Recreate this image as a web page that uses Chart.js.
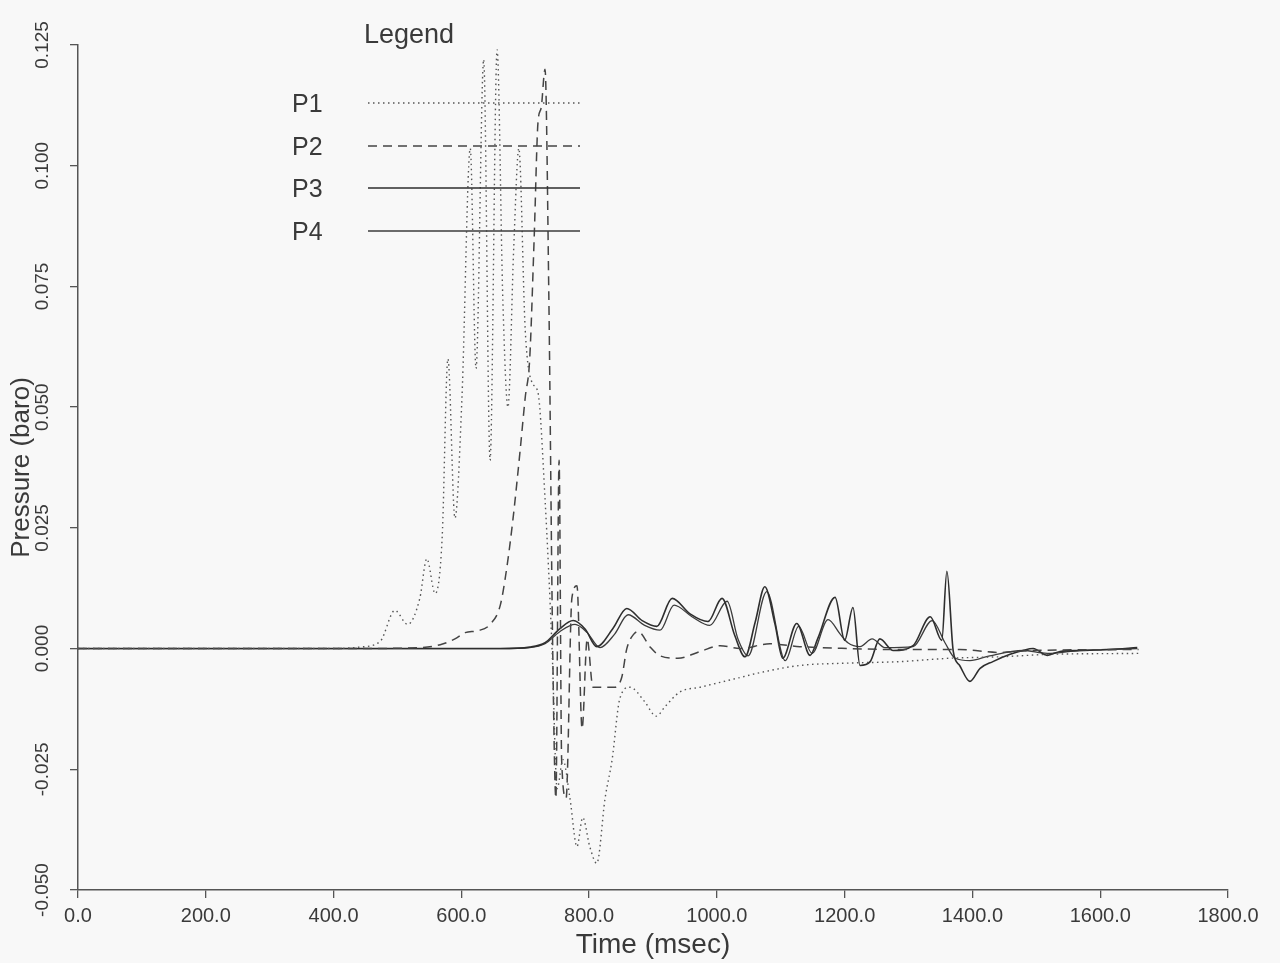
<!DOCTYPE html>
<html>
<head>
<meta charset="utf-8">
<script src="https://cdn.jsdelivr.net/npm/chart.js@4/dist/chart.umd.min.js"></script>
<style>
  html, body { margin: 0; padding: 0; background: #f8f8f8; }
  #wrap { width: 1280px; height: 963px; }
</style>
</head>
<body>
<div id="wrap"><canvas id="c" width="1280" height="963"></canvas></div>
<script>
// ---- Data (time in msec, pressure in baro) ----
const xTicks = [0, 200, 400, 600, 800, 1000, 1200, 1400, 1600, 1800];
const yTicks = [-0.05, -0.025, 0, 0.025, 0.05, 0.075, 0.1, 0.125];
const seriesNames = ['P1', 'P2', 'P3', 'P4'];

const p1Time = [0, 400, 440, 473, 496, 516, 535, 546, 559, 570, 579, 590, 601, 614, 623, 635, 645, 656, 665, 673, 682, 690, 700, 711, 720, 731, 742, 750, 759, 770, 781, 790, 801, 812, 825, 836, 848, 864, 887, 905, 919, 942, 974, 1005, 1036, 1067, 1130, 1208, 1287, 1365, 1443, 1521, 1660];
const p1Val  = [0, 0, 0.0003, 0.0015, 0.0079, 0.005, 0.0104, 0.0186, 0.0114, 0.023, 0.060, 0.027, 0.052, 0.1036, 0.058, 0.122, 0.039, 0.124, 0.072, 0.050, 0.083, 0.1036, 0.066, 0.055, 0.053, 0.031, 0, -0.029, -0.023, -0.031, -0.041, -0.035, -0.041, -0.0445, -0.031, -0.023, -0.0104, -0.008, -0.011, -0.014, -0.012, -0.009, -0.008, -0.007, -0.006, -0.005, -0.0035, -0.003, -0.0027, -0.002, -0.0017, -0.0012, -0.001];

const p2Time = [0, 430, 535, 567, 590, 606, 626, 645, 661, 671, 681, 692, 700, 707, 714, 720, 725, 731, 737, 743, 748, 753, 757, 764, 773, 781, 789, 797, 806, 817, 840, 851, 859, 870, 877, 895, 911, 939, 974, 1005, 1036, 1083, 1130, 1208, 1287, 1380, 1443, 1490, 1660];
const p2Val  = [0, 0, 0.0002, 0.0008, 0.002, 0.0033, 0.0037, 0.005, 0.009, 0.0166, 0.027, 0.041, 0.052, 0.060, 0.085, 0.109, 0.112, 0.120, 0.0725, 0, -0.031, 0.039, -0.023, -0.031, 0.0104, 0.013, -0.0166, 0.002, -0.008, -0.008, -0.008, -0.006, 0.0, 0.003, 0.0035, 0.0004, -0.0015, -0.002, -0.0006, 0.0006, 0.0, 0.001, 0.0004, 0, -0.0002, -0.0002, -0.0008, -0.0004, -0.0002];

const p3Time = [0, 661, 707, 731, 754, 775, 794, 812, 837, 859, 883, 906, 930, 958, 986, 1008, 1028, 1044, 1060, 1075, 1091, 1103, 1125, 1146, 1158, 1185, 1200, 1213, 1224, 1240, 1255, 1276, 1307, 1334, 1352, 1360, 1370, 1380, 1396, 1412, 1432, 1459, 1479, 1495, 1517, 1537, 1568, 1615, 1658];
const p3Val  = [0, 0, 0.0003, 0.0012, 0.0041, 0.0058, 0.004, 0.0004, 0.0041, 0.0083, 0.0058, 0.0046, 0.0104, 0.0072, 0.0056, 0.0104, 0.0027, -0.0017, 0.0055, 0.0128, 0.005, -0.002, 0.0052, -0.0014, 0.0021, 0.0106, 0.0017, 0.0085, -0.0035, -0.0027, 0.002, -0.0004, 0.0006, 0.0066, 0.0017, 0.016, -0.0006, -0.0035, -0.0068, -0.0041, -0.0027, -0.0012, -0.0004, 0, -0.0014, -0.0006, -0.0004, -0.0002, 0.0002];

const p4Time = [0, 661, 707, 731, 754, 778, 797, 817, 840, 861, 887, 911, 933, 961, 989, 1016, 1033, 1049, 1078, 1107, 1128, 1149, 1174, 1193, 1205, 1224, 1243, 1263, 1307, 1337, 1357, 1373, 1396, 1427, 1479, 1517, 1568, 1658];
const p4Val  = [0, 0, 0.0002, 0.001, 0.0035, 0.005, 0.0033, 0.0002, 0.003, 0.007, 0.0048, 0.0038, 0.009, 0.0066, 0.0048, 0.0098, 0.002, -0.0015, 0.0118, -0.0025, 0.0046, -0.001, 0.006, 0.003, 0.0012, 0.0004, 0.002, 0.0002, 0.0004, 0.0058, 0.0012, -0.002, -0.0025, -0.0015, -0.0004, -0.001, -0.0004, 0];

const toPoints = (t, v) => t.map((x, i) => ({ x: x, y: v[i] }));

const ink = '#3a3a3a';
const fontFam = '"Liberation Sans", Arial, sans-serif';

const styles = [
  { color: '#555', width: 1.4, dash: [1.5, 3.5] },
  { color: '#444', width: 1.5, dash: [9, 6] },
  { color: '#2e2e2e', width: 1.6, dash: [] },
  { color: '#3c3c3c', width: 1.3, dash: [] }
];

const allSeries = [[p1Time, p1Val], [p2Time, p2Val], [p3Time, p3Val], [p4Time, p4Val]];

const datasets = allSeries.map((s, i) => ({
  label: seriesNames[i],
  data: toPoints(s[0], s[1]),
  borderColor: styles[i].color,
  borderWidth: styles[i].width,
  borderDash: styles[i].dash,
  pointRadius: 0,
  cubicInterpolationMode: 'monotone',
  fill: false
}));

const legendPlugin = {
  id: 'boxLegend',
  afterDraw(chart) {
    const ctx = chart.ctx;
    ctx.save();
    ctx.fillStyle = ink;
    ctx.textBaseline = 'middle';
    ctx.font = '27px ' + fontFam;
    ctx.fillText('Legend', 364, 36);
    const rows = [103, 146, 188, 231];
    chart.data.datasets.forEach((ds, i) => {
      ctx.font = '25px ' + fontFam;
      ctx.fillStyle = ink;
      ctx.fillText(ds.label, 292, rows[i] + 2);
      ctx.beginPath();
      ctx.setLineDash(ds.borderDash || []);
      ctx.strokeStyle = ds.borderColor;
      ctx.lineWidth = ds.borderWidth;
      ctx.moveTo(368, rows[i]);
      ctx.lineTo(580, rows[i]);
      ctx.stroke();
    });
    ctx.restore();
  }
};

new Chart(document.getElementById('c'), {
  type: 'line',
  data: { datasets: datasets },
  options: {
    responsive: false,
    animation: false,
    events: [],
    layout: { padding: { top: 45, right: 52, left: 0, bottom: 0 } },
    plugins: { legend: { display: false }, tooltip: { enabled: false } },
    scales: {
      x: {
        type: 'linear',
        min: 0, max: 1800,
        afterFit: s => { s.height = 73; },
        afterBuildTicks: s => { s.ticks = xTicks.map(v => ({ value: v })); },
        ticks: {
          color: ink, padding: 6,
          font: { family: fontFam, size: 20 },
          callback: v => Number(v).toFixed(1),
          maxRotation: 0, autoSkip: false
        },
        grid: { drawOnChartArea: false, color: '#555', tickLength: 8, lineWidth: 1.3 },
        border: { color: '#555', width: 1.5 },
        title: { display: true, text: 'Time (msec)', color: ink, font: { family: fontFam, size: 28 }, padding: { top: 0, bottom: 1 } }
      },
      y: {
        type: 'linear',
        min: -0.05, max: 0.125,
        afterFit: s => { s.width = 78; },
        afterBuildTicks: s => { s.ticks = yTicks.map(v => ({ value: v })); },
        ticks: {
          color: ink, padding: 0,
          minRotation: 90, maxRotation: 90,
          crossAlign: 'center',
          font: { family: fontFam, size: 19 },
          callback: v => Number(v).toFixed(3),
          autoSkip: false
        },
        grid: { drawOnChartArea: false, color: '#555', tickLength: 8, lineWidth: 1.3 },
        border: { color: '#555', width: 1.5 },
        title: { display: true, text: 'Pressure (baro)', color: ink, font: { family: fontFam, size: 26 }, padding: { top: 6, bottom: 0 } }
      }
    }
  },
  plugins: [legendPlugin]
});
</script>
</body>
</html>
